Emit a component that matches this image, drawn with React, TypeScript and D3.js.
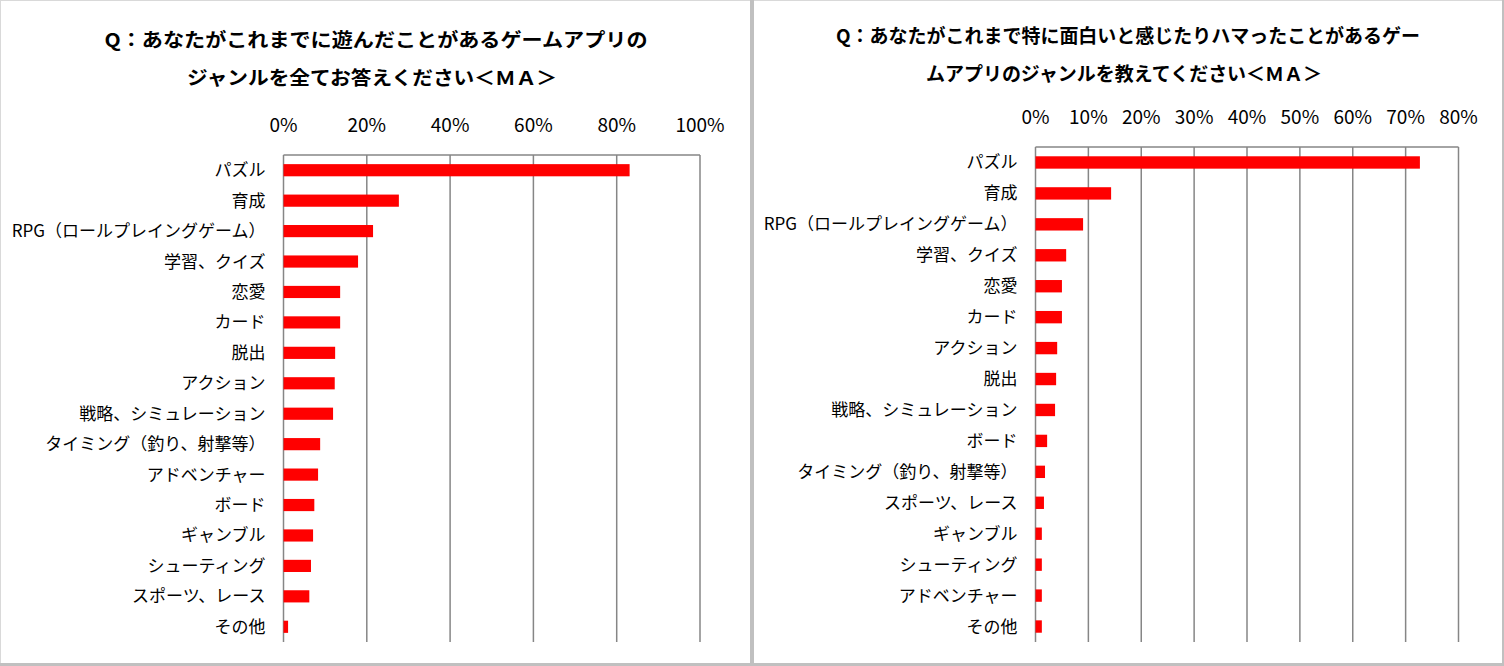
import React from "react";
import * as d3 from "d3";

const leftCategories = [
  "パズル", "育成", "RPG（ロールプレイングゲーム）", "学習、クイズ", "恋愛", "カード", "脱出",
  "アクション", "戦略、シミュレーション", "タイミング（釣り、射撃等）", "アドベンチャー",
  "ボード", "ギャンブル", "シューティング", "スポーツ、レース", "その他",
];
const leftValues = [0.831, 0.277, 0.215, 0.179, 0.136, 0.136, 0.124, 0.123, 0.119, 0.088, 0.083, 0.074, 0.071, 0.066, 0.062, 0.011];
const leftTicks = [0, 0.2, 0.4, 0.6, 0.8, 1.0];
const leftTitle = ["Q：あなたがこれまでに遊んだことがあるゲームアプリの", "ジャンルを全てお答えください＜ＭＡ＞"];

const rightCategories = [
  "パズル", "育成", "RPG（ロールプレイングゲーム）", "学習、クイズ", "恋愛", "カード", "アクション",
  "脱出", "戦略、シミュレーション", "ボード", "タイミング（釣り、射撃等）", "スポーツ、レース",
  "ギャンブル", "シューティング", "アドベンチャー", "その他",
];
const rightValues = [0.727, 0.143, 0.09, 0.058, 0.05, 0.05, 0.041, 0.039, 0.037, 0.022, 0.018, 0.016, 0.012, 0.012, 0.012, 0.012];
const rightTicks = [0, 0.1, 0.2, 0.3, 0.4, 0.5, 0.6, 0.7, 0.8];
const rightTitle = ["Q：あなたがこれまで特に面白いと感じたりハマったことがあるゲー", "ムアプリのジャンルを教えてください＜ＭＡ＞"];

const FONT = "'Noto Sans CJK JP', 'Noto Sans', sans-serif";

type PanelProps = {
  categories: string[];
  values: number[];
  ticks: number[];
  title: string[];
  xRange: [number, number];
  xMax: number;
  yRange: [number, number];
  titleX: number[];
  titleY: number[];
  titleLen: number[];
  tickY: number;
};

function Panel(p: PanelProps) {
  const x = d3.scaleLinear().domain([0, p.xMax]).range(p.xRange);
  const y = d3.scaleBand<string>().domain(p.categories).range(p.yRange).paddingInner(0.6).paddingOuter(0.3);
  const fmt = d3.format(".0%");
  const [x0, x1] = p.xRange;
  const [y0, y1] = p.yRange;
  return (
    <g>
      {p.title.map((t, i) => (
        <text key={i} x={p.titleX[i]} y={p.titleY[i]} textAnchor="middle" dominantBaseline="central"
          fontFamily={FONT} fontWeight="bold" fontSize={19} fill="#000"
          textLength={p.titleLen[i]} lengthAdjust="spacingAndGlyphs">{t}</text>
      ))}
      {p.ticks.map((t) => (
        <text key={t} x={x(t)} y={p.tickY} textAnchor="middle" dominantBaseline="central"
          fontFamily={FONT} fontSize={19} fill="#000">{fmt(t)}</text>
      ))}
      {p.ticks.map((t) => (
        <line key={"g" + t} x1={x(t)} x2={x(t)} y1={y0} y2={y1} stroke="#868686" strokeWidth={1.5} />
      ))}
      <line x1={x0} x2={x1} y1={y0} y2={y0} stroke="#868686" strokeWidth={1.5} />
      {p.categories.map((c, i) => (
        <rect key={c} x={x(0)} y={y(c)!} width={x(p.values[i]) - x(0)} height={y.bandwidth()} fill="#ff0000" />
      ))}
      {p.categories.map((c) => (
        <text key={"l" + c} x={x0 - 18} y={y(c)! + y.bandwidth() / 2 - 1.5} textAnchor="end" dominantBaseline="central"
          fontFamily={FONT} fontSize={17} fill="#000">{c}</text>
      ))}
    </g>
  );
}

export default function App() {
  return (
    <svg width={1504} height={666} style={{ position: "absolute", left: 0, top: 0, background: "#fff" }}>
      <rect x={0} y={0} width={1504} height={666} fill="#fff" />
      <Panel categories={leftCategories} values={leftValues} ticks={leftTicks} title={leftTitle}
        xRange={[283.5, 700]} xMax={1} yRange={[155, 642]}
        titleX={[376, 372]} titleY={[38, 76]} titleLen={[543, 370]} tickY={123} />
      <Panel categories={rightCategories} values={rightValues} ticks={rightTicks} title={rightTitle}
        xRange={[1035.5, 1458.5]} xMax={0.8} yRange={[147, 642]}
        titleX={[1128, 1124]} titleY={[34, 72]} titleLen={[584, 396]} tickY={115} />
      <rect x={0.5} y={0.5} width={1502} height={664} fill="none" stroke="#d9d9d9" strokeWidth={1} />
      <rect x={750} y={0} width={4} height={666} fill="#c0c0c0" />
      <rect x={0} y={663} width={1504} height={3} fill="#c0c0c0" />
      <rect x={1502} y={0} width={2} height={666} fill="#c0c0c0" />
    </svg>
  );
}
